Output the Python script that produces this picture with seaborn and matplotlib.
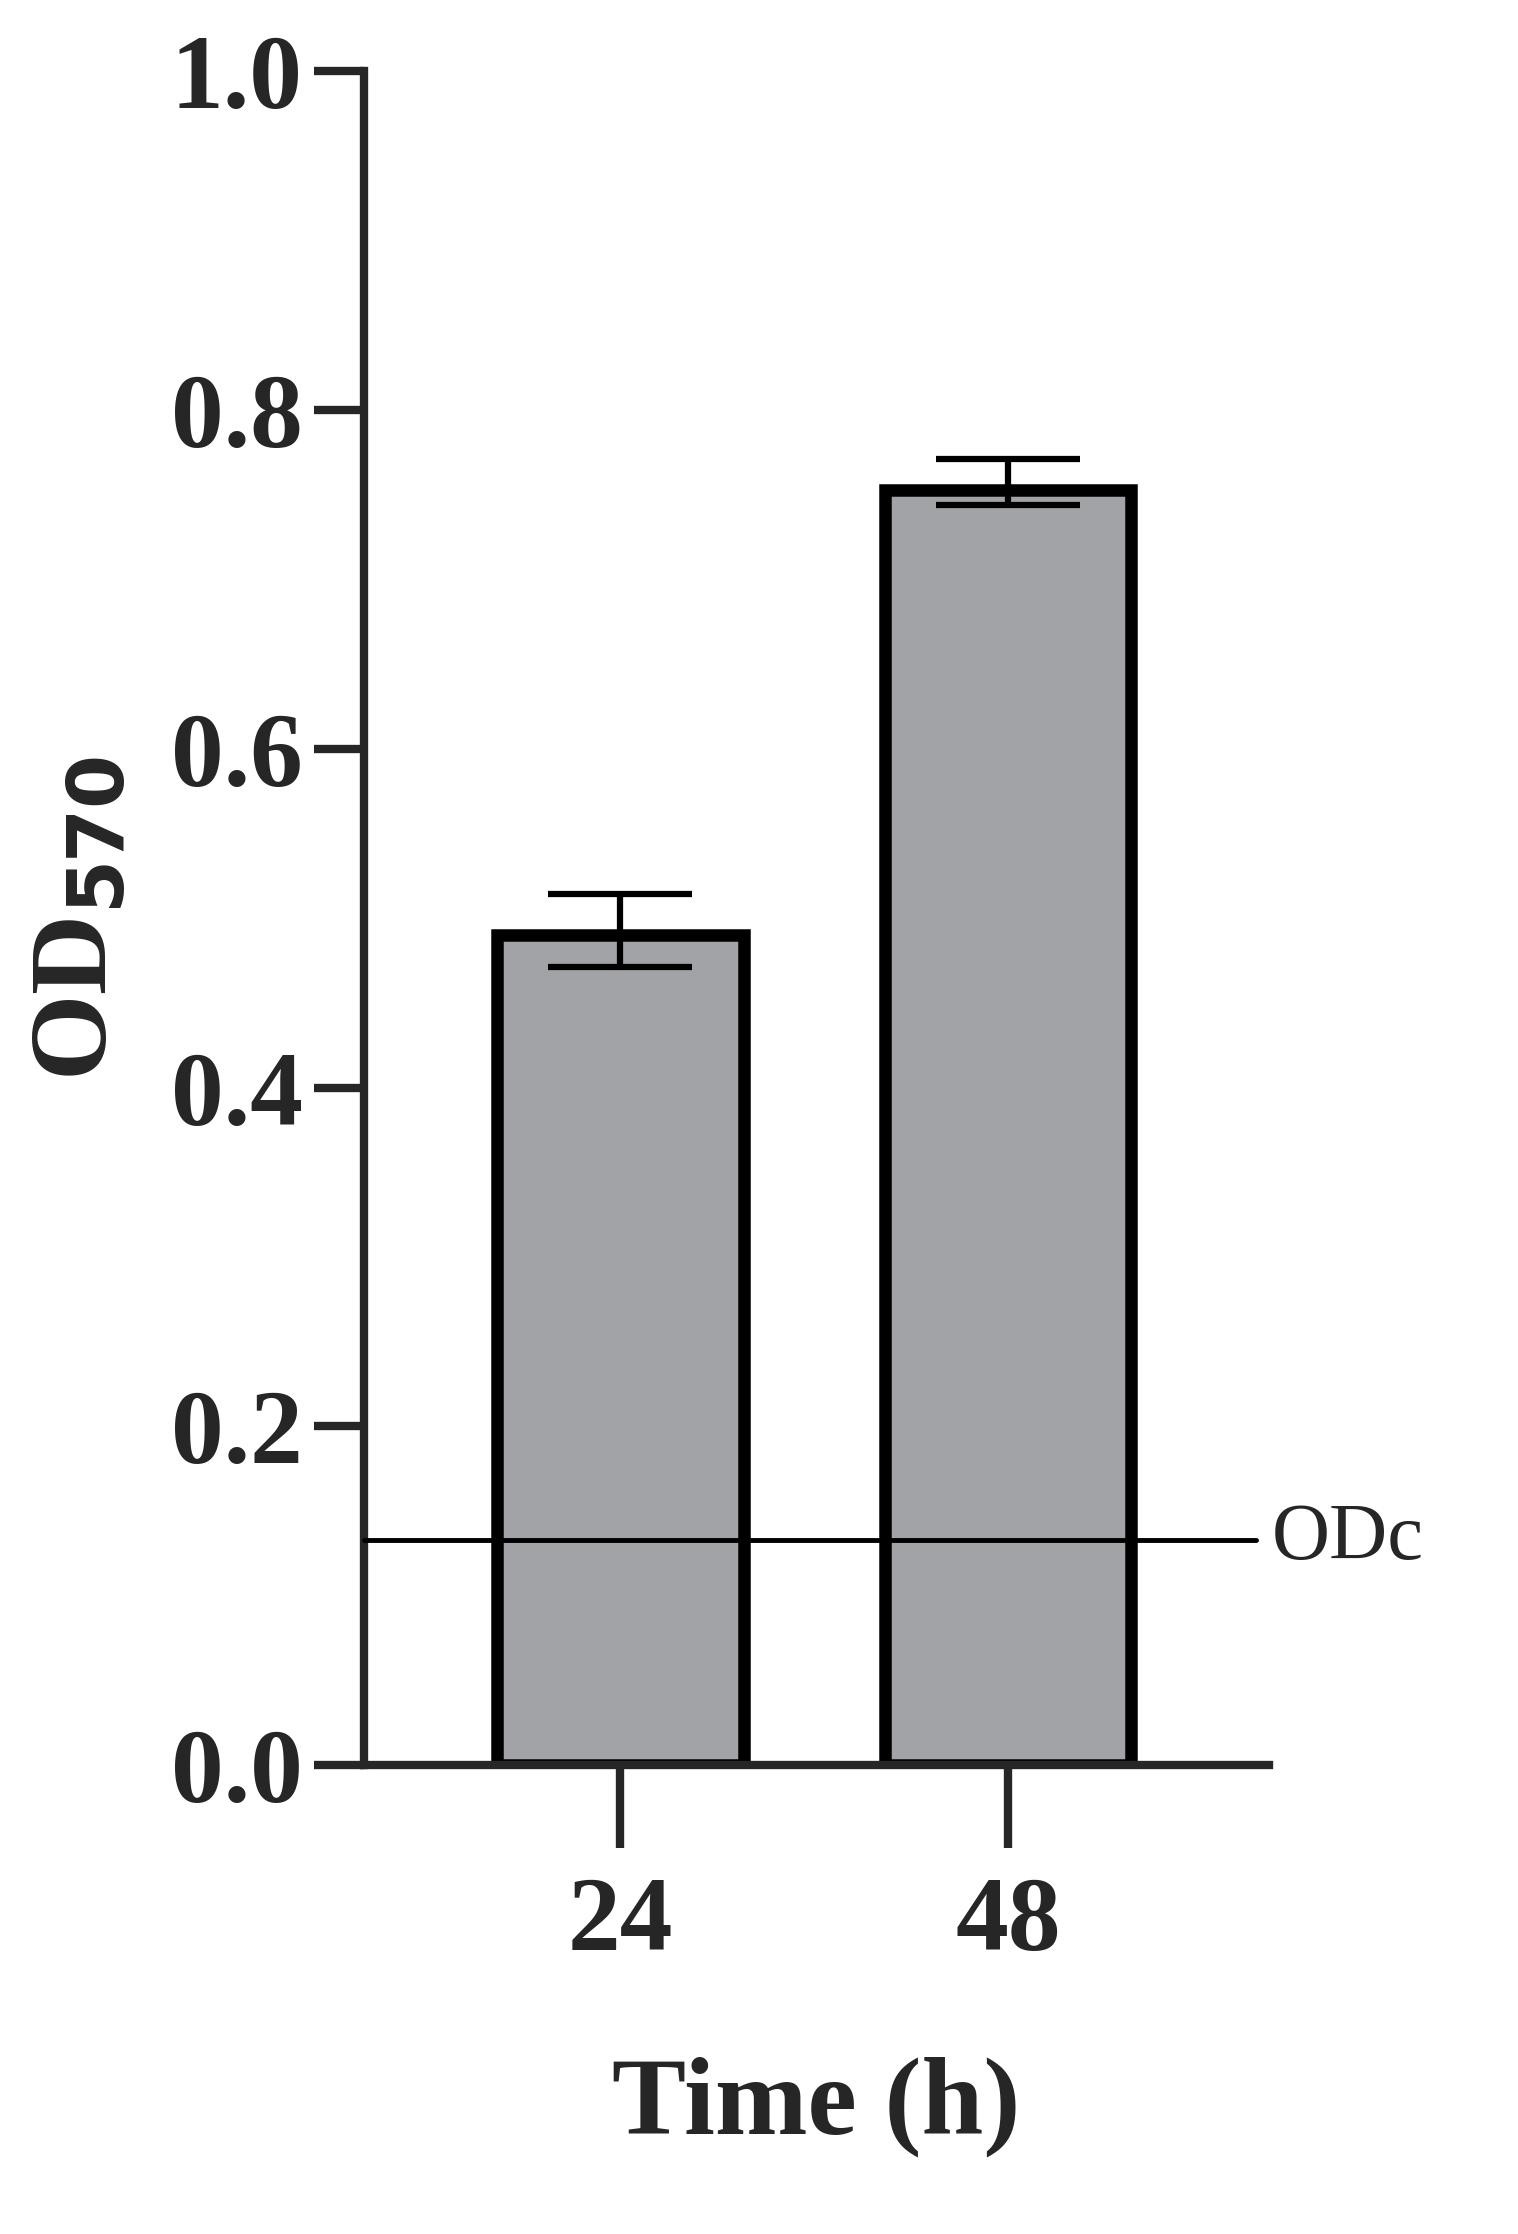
import matplotlib
matplotlib.use("Agg")
import matplotlib.pyplot as plt
import seaborn as sns
import pandas as pd

times = ["24", "48"]
means = [0.490, 0.753]
err_low = [0.471, 0.744]
err_high = [0.514, 0.771]
odc = 0.133

sns.set_style("ticks")
plt.rcParams['font.family'] = ['Liberation Serif', 'DejaVu Serif']

fig = plt.figure(figsize=(15.18, 22.34), dpi=100)
ax = fig.add_axes([0.2396, 0.21, 0.5964, 0.758])
df = pd.DataFrame({"t": times, "v": means})
sns.barplot(data=df, x="t", y="v", color="#a2a3a7", saturation=1, width=0.636,
            edgecolor="black", linewidth=9, ax=ax, errorbar=None)
for i, (m, lo, hi) in enumerate(zip(means, err_low, err_high)):
    ax.errorbar([i], [m], yerr=[[m - lo], [hi - m]], fmt="none", ecolor="black",
                elinewidth=4.5, capsize=52, capthick=4.5, zorder=5)
ax.set_xlim(-0.662, 1.673)
ax.set_ylim(0, 1.0)
ax.plot([-0.662, 1.64], [odc, odc], color="black", lw=3.5, clip_on=False, zorder=6)
ax.text(1.68, odc, "ODc", fontsize=58, va="center", ha="left")
ax.set_yticks([0, 0.2, 0.4, 0.6, 0.8, 1.0])
ax.set_yticklabels(["0.0", "0.2", "0.4", "0.6", "0.8", "1.0"])
for s in ["top", "right"]:
    ax.spines[s].set_visible(False)
for s in ["left", "bottom"]:
    ax.spines[s].set_linewidth(6)
ax.tick_params(axis="y", length=36, width=6, labelsize=76, pad=8)
ax.tick_params(axis="x", length=60, width=6, labelsize=76, pad=20)
for lab in ax.get_xticklabels() + ax.get_yticklabels():
    lab.set_fontweight("bold")
ax.set_xlabel("Time (h)", fontsize=80, fontweight="bold", labelpad=60)
ax.set_ylabel("OD$_{\\mathbf{570}}$", fontsize=80, fontweight="bold", labelpad=30)
fig.savefig("out.png", dpi=100)
